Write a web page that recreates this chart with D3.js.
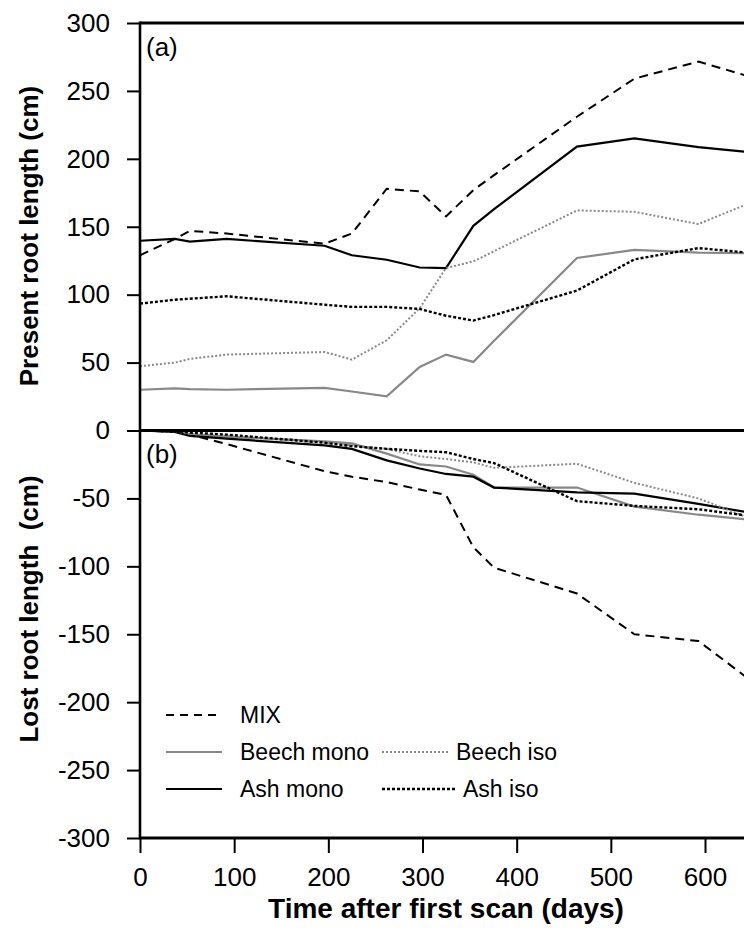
<!DOCTYPE html>
<html>
<head>
<meta charset="utf-8">
<script src="https://cdn.jsdelivr.net/npm/d3@7"></script>
<style>
  body { margin: 0; background: #fff; }
  text { font-family: "Liberation Sans", Arial, sans-serif; }
</style>
</head>
<body>
<script>
// sampling days (shared by both panels)
var days = [0, 37, 53, 92, 196, 225, 262, 297, 325, 354, 376, 464, 525, 593, 660];

// (a) present root length (cm)
var mixPresent       = [129, 141, 147, 145, 137.5, 145, 178, 176, 157.6, 177, 188, 231, 259, 271.6, 258];
var beechMonoPresent = [30, 31, 30.5, 30, 31.4, 28.7, 25.2, 46.8, 55.9, 50.5, 66, 127, 133, 131, 130.5];
var ashMonoPresent   = [139.7, 141, 139, 141, 136, 129, 125.7, 120, 119.6, 150.7, 163, 209, 215, 208.6, 204];
var beechIsoPresent  = [47.3, 50, 52.7, 55.9, 57.8, 52.2, 66.4, 90, 119.6, 124.5, 132, 162, 161, 152, 171];
var ashIsoPresent    = [93.4, 96.3, 97, 98.8, 92.6, 91, 91, 89.5, 84.5, 80.9, 85, 103, 126, 134.3, 130];

// (b) lost root length (cm)
var mixLost       = [0, -1, -3, -10, -30, -34, -38, -43.5, -47.5, -86, -101, -120, -150, -155, -190];
var beechMonoLost = [0, -0.5, -3, -4.5, -8, -9.5, -17, -25, -26.5, -32.5, -42, -42, -56, -62, -66.5];
var ashMonoLost   = [0, -1, -4, -6, -11, -13.5, -22, -28, -32, -34, -42, -45.5, -46.5, -54, -62];
var beechIsoLost  = [0, -0.5, -2.5, -4, -9, -11, -13.5, -19, -21, -23.5, -27.5, -24.5, -38.5, -50, -68];
var ashIsoLost    = [0, -0.5, -1.5, -3, -9, -11.5, -13.5, -15, -16, -21, -24, -52, -55.5, -58, -64];

var xTicks = [0, 100, 200, 300, 400, 500, 600];
var yTicks = [-300, -250, -200, -150, -100, -50, 0, 50, 100, 150, 200, 250, 300];

var seriesNames = ['MIX', 'Beech mono', 'Ash mono', 'Beech iso', 'Ash iso'];
var styles = {
  'MIX':        {color: '#000', dash: '9,6', width: 2},
  'Beech mono': {color: '#888', dash: null,  width: 2.2},
  'Ash mono':   {color: '#000', dash: null,  width: 2.2},
  'Beech iso':  {color: '#888', dash: '2,2', width: 2},
  'Ash iso':    {color: '#000', dash: '3,2', width: 2.4}
};
var present = {'MIX': mixPresent, 'Beech mono': beechMonoPresent, 'Ash mono': ashMonoPresent,
               'Beech iso': beechIsoPresent, 'Ash iso': ashIsoPresent};
var lost = {'MIX': mixLost, 'Beech mono': beechMonoLost, 'Ash mono': ashMonoLost,
            'Beech iso': beechIsoLost, 'Ash iso': ashIsoLost};

var width = 744, height = 944;
var plotLeft = 140, plotRight = 744, plotTop = 23, plotBottom = 838;

var svg = d3.select('body').append('svg')
  .attr('width', width).attr('height', height);

var x = d3.scaleLinear().domain([0, 600]).range([plotLeft, 705]);
var y = d3.scaleLinear().domain([-300, 300]).range([plotBottom, plotTop]);

svg.append('clipPath').attr('id', 'plot')
  .append('rect').attr('x', plotLeft).attr('y', plotTop)
  .attr('width', plotRight - plotLeft).attr('height', plotBottom - plotTop);

// data lines
var g = svg.append('g').attr('clip-path', 'url(#plot)');
function drawPanel(data) {
  seriesNames.forEach(function(name) {
    var vals = data[name];
    var line = d3.line().x((d, i) => x(days[i])).y(d => y(d));
    var st = styles[name];
    g.append('path')
      .attr('d', line(vals))
      .attr('fill', 'none')
      .attr('stroke', st.color)
      .attr('stroke-width', st.width)
      .attr('stroke-dasharray', st.dash);
  });
}
drawPanel(present);
drawPanel(lost);

// axes
var yAxis = d3.axisLeft(y).tickValues(yTicks).tickSize(13).tickPadding(17).tickFormat(d => String(d));
var yg = svg.append('g').attr('transform', `translate(${plotLeft},0)`).call(yAxis);
var xAxis = d3.axisBottom(x).tickValues(xTicks).tickSize(15).tickPadding(15).tickFormat(d => String(d));
var xg = svg.append('g').attr('transform', `translate(0,${plotBottom})`).call(xAxis);
[yg, xg].forEach(function(a) {
  a.select('.domain').remove();
  a.selectAll('.tick line').attr('stroke', '#000').attr('stroke-width', 2);
  a.selectAll('.tick text').attr('fill', '#000')
    .style('font-size', '26px').style('font-family', '"Liberation Sans", Arial, sans-serif');
});

// frame lines
svg.append('line').attr('x1', plotLeft).attr('x2', plotLeft).attr('y1', plotTop - 1.4).attr('y2', plotBottom + 1.4)
  .attr('stroke', '#000').attr('stroke-width', 2.6);
[300, 0, -300].forEach(function(v) {
  svg.append('line').attr('x1', plotLeft).attr('x2', plotRight).attr('y1', y(v)).attr('y2', y(v))
    .attr('stroke', '#000').attr('stroke-width', 2.8);
});

// panel labels
svg.append('text').attr('x', 146).attr('y', 56).style('font-size', '26px').text('(a)');
svg.append('text').attr('x', 146).attr('y', 463).style('font-size', '26px').text('(b)');

// axis titles
svg.append('text')
  .attr('transform', `translate(38,236) rotate(-90)`)
  .attr('text-anchor', 'middle').style('font-size', '26px').style('font-weight', 'bold')
  .text('Present root length (cm)');
svg.append('text')
  .attr('transform', `translate(38,609) rotate(-90)`)
  .attr('text-anchor', 'middle').style('font-size', '26px').style('font-weight', 'bold')
  .style('white-space', 'pre')
  .text('Lost root length  (cm)');
svg.append('text')
  .attr('x', 446).attr('y', 918)
  .attr('text-anchor', 'middle').style('font-size', '28px').style('font-weight', 'bold')
  .text('Time after first scan (days)');

// legend
var legendItems = [
  {name: 'MIX',        x1: 166, x2: 222, y: 715, tx: 240},
  {name: 'Beech mono', x1: 166, x2: 222, y: 752, tx: 240},
  {name: 'Ash mono',   x1: 166, x2: 222, y: 789, tx: 240},
  {name: 'Beech iso',  x1: 382, x2: 450, y: 752, tx: 456},
  {name: 'Ash iso',    x1: 382, x2: 456, y: 789, tx: 463}
];
legendItems.forEach(function(it) {
  var st = styles[it.name];
  svg.append('line').attr('x1', it.x1).attr('x2', it.x2).attr('y1', it.y).attr('y2', it.y)
    .attr('stroke', st.color).attr('stroke-width', st.width)
    .attr('stroke-dasharray', it.name === 'MIX' ? '8,6' : st.dash);
  svg.append('text').attr('x', it.tx).attr('y', it.y + 8).style('font-size', '23px').text(it.name);
});
</script>
</body>
</html>
